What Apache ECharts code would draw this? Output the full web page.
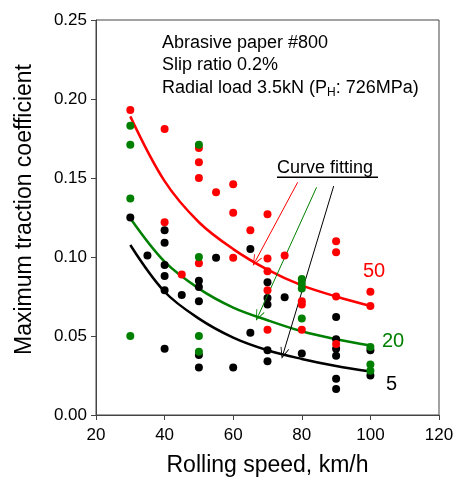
<!DOCTYPE html>
<html><head><meta charset="utf-8">
<script src="https://cdn.jsdelivr.net/npm/echarts@6/dist/echarts.min.js"></script>
<style>html,body{margin:0;padding:0;background:#fff}#c{width:453px;height:479px}</style>
</head><body><div id="c"></div>
<script>
// Measured points [speed km/h, max traction coefficient]
const pts5 = [[30,0.125],[35,0.101],[40,0.117],[40,0.109],[40,0.095],[40,0.088],[40,0.079],[40,0.042],[45,0.076],
  [50,0.085],[50,0.081],[50,0.072],[50,0.038],[50,0.030],[55,0.0996],[60,0.030],[65,0.105],[65,0.052],
  [70,0.084],[70,0.074],[70,0.070],[70,0.041],[70,0.034],[75,0.0745],[80,0.039],
  [90,0.062],[90,0.048],[90,0.042],[90,0.0375],[90,0.023],[90,0.0165],[100,0.041],[100,0.025]];
const pts50 = [[30,0.193],[40,0.181],[40,0.122],[45,0.089],[50,0.169],[50,0.160],[50,0.150],[50,0.096],[55,0.141],
  [60,0.146],[60,0.128],[60,0.0996],[65,0.117],[70,0.127],[70,0.099],[70,0.091],[70,0.079],[70,0.054],[75,0.101],
  [80,0.072],[80,0.070],[80,0.054],[90,0.110],[90,0.103],[90,0.075],[90,0.045],[100,0.078],[100,0.069]];
const pts20 = [[30,0.183],[30,0.171],[30,0.137],[30,0.050],[50,0.171],[50,0.100],[50,0.050],[50,0.040],
  [80,0.086],[80,0.083],[80,0.080],[80,0.061],[100,0.043],[100,0.032],[100,0.028]];
// Fitted curves
const fitSpeeds = [30,40,50,60,70,80,90,100];
const fit50 = [0.189,0.148,0.122,0.105,0.092,0.082,0.075,0.069];
const fit20 = [0.1245,0.097,0.080,0.068,0.060,0.053,0.048,0.044];
const fit5  = [0.1076,0.078,0.061,0.049,0.041,0.0355,0.031,0.0275];
// Arrow annotations [start, end] in data coords
const arrow50 = [[78.8,0.1473],[66.5,0.0975]];
const arrow20 = [[84.3,0.1441],[67.3,0.0628]];
const arrow5  = [[89.3,0.1449],[74.6,0.039]];
const xTicks = {min:20,max:120,interval:20};
const yTicks = {min:0,max:0.25,interval:0.05};

const FONT = 'Liberation Sans, Arial, sans-serif';
const RED='#ff0000', GREEN='#008000', BLACK='#000000';
const chevron = 'path://M5,0 L10,10 L9,10 L5,2 L1,10 L0,10 Z';
const zip = (xs, ys) => xs.map((x,i)=>[x, ys[i]]);
function fitLine(name, vals, color){
  return {name, type:'line', data: zip(fitSpeeds, vals), smooth:0.35, showSymbol:false, symbol:'none',
    lineStyle:{color, width:2.5}, z:3, silent:true};
}
function arrowSeries(arr, color){
  return {type:'line', data:[], silent:true,
    markLine:{silent:true, symbol:['none', chevron], symbolSize:[9,11], label:{show:false},
      lineStyle:{color, width:1, type:'solid'},
      data:[[{coord:arr[0]},{coord:arr[1]}]]}};
}
function scatter(data, color, z){
  return {type:'scatter', data, symbolSize:8, itemStyle:{color, opacity:1}, z, silent:true};
}
const chart = echarts.init(document.getElementById('c'), null, {renderer:'canvas'});
chart.setOption({
  animation:false,
  backgroundColor:'#fff',
  grid:{left:96, top:20, right:14, bottom:64, containLabel:false, outerBoundsMode:'none',
    show:true, borderColor:'#444', borderWidth:1, backgroundColor:'transparent'},
  xAxis:{type:'value', min:xTicks.min, max:xTicks.max, interval:xTicks.interval,
    name:'Rolling speed, km/h', nameLocation:'middle', nameGap:39,
    nameTextStyle:{fontFamily:FONT, fontSize:23, color:'#000'},
    axisLine:{lineStyle:{color:'#444'}}, axisTick:{inside:false, length:5, lineStyle:{color:'#444'}},
    axisLabel:{fontFamily:FONT, fontSize:17, color:'#000', margin:12},
    splitLine:{show:false}},
  yAxis:{type:'value', min:yTicks.min, max:yTicks.max, interval:yTicks.interval,
    name:'Maximum traction coefficient', nameLocation:'middle', nameGap:60,
    nameTextStyle:{fontFamily:FONT, fontSize:23, color:'#000', padding:[0,0,0,16]},
    axisLine:{show:true, lineStyle:{color:'#444'}}, axisTick:{show:true, inside:false, length:5, lineStyle:{color:'#444'}},
    axisLabel:{fontFamily:FONT, fontSize:17, color:'#000', margin:9, formatter:v=>v.toFixed(2)},
    splitLine:{show:false}},
  series:[
    scatter(pts5, BLACK, 4),
    scatter(pts50, RED, 5),
    scatter(pts20, GREEN, 6),
    fitLine('50', fit50, RED),
    fitLine('20', fit20, GREEN),
    fitLine('5', fit5, BLACK),
    arrowSeries(arrow50, RED),
    arrowSeries(arrow20, GREEN),
    arrowSeries(arrow5, BLACK)
  ],
  graphic:[
    {type:'text', left:162, top:34, style:{text:'Abrasive paper #800', font:'18px '+FONT, fill:'#000'}},
    {type:'text', left:162, top:56, style:{text:'Slip ratio 0.2%', font:'18px '+FONT, fill:'#000'}},
    {type:'text', left:162, top:79, style:{
      text:'Radial load 3.5kN (P{s|H}: 726MPa)', font:'18px '+FONT, fill:'#000',
      rich:{s:{fontSize:12, fontFamily:FONT, fill:'#000', verticalAlign:'bottom', padding:[10,0,0,0]}}}},
    {type:'text', left:277, top:159, style:{text:'Curve fitting', font:'18px '+FONT, fill:'#000'}},
    {type:'rect', shape:{x:277, y:176.5, width:101, height:1.6}, style:{fill:'#000'}},
    {type:'text', left:363, top:261, style:{text:'50', font:'20px '+FONT, fill:RED}},
    {type:'text', left:382, top:331, style:{text:'20', font:'20px '+FONT, fill:GREEN}},
    {type:'text', left:386, top:374, style:{text:'5', font:'20px '+FONT, fill:BLACK}}
  ]
});
</script></body></html>
